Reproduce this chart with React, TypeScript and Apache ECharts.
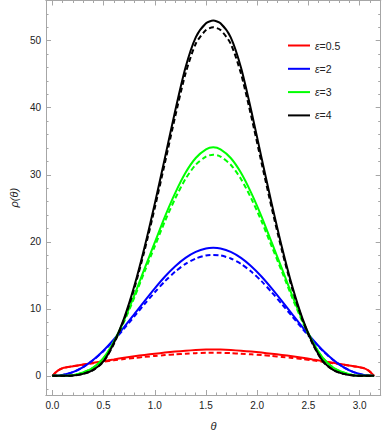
import React, { useEffect, useRef } from "react";
import * as echarts from "echarts";

// θ sample points (radians)
const thetas = [0, 0.025, 0.05, 0.1, 0.2, 0.3, 0.4, 0.5, 0.6, 0.7, 0.8, 0.9, 1.0, 1.1, 1.2, 1.3, 1.4, 1.5, 1.5708,
  1.6416, 1.7416, 1.8416, 1.9416, 2.0416, 2.1416, 2.2416, 2.3416, 2.4416, 2.5416, 2.6416, 2.7416, 2.8416, 2.9416, 3.0416, 3.0916, 3.1166, 3.1416];

const redSolid = [0, 0.4, 0.75, 1.15, 1.45, 1.7, 1.95, 2.2, 2.45, 2.7, 2.92, 3.12, 3.3, 3.47, 3.62, 3.75, 3.85, 3.92, 3.94,
  3.92, 3.85, 3.75, 3.62, 3.47, 3.3, 3.12, 2.92, 2.7, 2.45, 2.2, 1.95, 1.7, 1.45, 1.15, 0.75, 0.4, 0];
const redDashed = [0, 0.4, 0.75, 1.14, 1.43, 1.67, 1.89, 2.1, 2.31, 2.51, 2.68, 2.83, 2.97, 3.1, 3.21, 3.31, 3.39, 3.44, 3.45,
  3.44, 3.39, 3.31, 3.21, 3.1, 2.97, 2.83, 2.68, 2.51, 2.31, 2.1, 1.89, 1.67, 1.43, 1.14, 0.75, 0.4, 0];
const blueSolid = [0, 0.01, 0.03, 0.12, 0.55, 1.31, 2.4, 3.79, 5.43, 7.26, 9.2, 11.16, 13.06, 14.83, 16.36, 17.6, 18.49, 19.0, 19.1,
  19.0, 18.49, 17.6, 16.36, 14.83, 13.06, 11.16, 9.2, 7.26, 5.43, 3.79, 2.4, 1.31, 0.55, 0.12, 0.03, 0.01, 0];
const blueDashed = [0, 0.01, 0.03, 0.12, 0.55, 1.31, 2.37, 3.72, 5.3, 7.04, 8.87, 10.7, 12.48, 14.13, 15.56, 16.7, 17.51, 17.97, 18.05,
  17.97, 17.51, 16.7, 15.56, 14.13, 12.48, 10.7, 8.87, 7.04, 5.3, 3.72, 2.37, 1.31, 0.55, 0.12, 0.03, 0.01, 0];
const greenSolid = [0, 0, 0, 0.004, 0.1, 0.5, 1.25, 2.7, 5.1, 8.3, 12.0, 16.0, 19.9, 23.8, 27.3, 30.3, 32.5, 33.8, 34.1,
  33.8, 32.5, 30.3, 27.3, 23.8, 19.9, 16.0, 12.0, 8.3, 5.1, 2.7, 1.25, 0.5, 0.1, 0.004, 0, 0, 0];
const greenDashed = [0, 0, 0, 0.004, 0.1, 0.5, 1.23, 2.64, 4.97, 8.08, 11.67, 15.55, 19.32, 23.1, 26.48, 29.38, 31.5, 32.72, 33.0,
  32.72, 31.5, 29.38, 26.48, 23.1, 19.32, 15.55, 11.67, 8.08, 4.97, 2.64, 1.23, 0.5, 0.1, 0.004, 0, 0, 0];
const blackSolid = [0, 0, 0, 0, 0.04, 0.3, 0.9, 2.2, 4.9, 8.6, 13.4, 19.2, 25.7, 32.6, 39.6, 46.0, 50.5, 52.6, 53.0,
  52.6, 50.5, 46.0, 39.6, 32.6, 25.7, 19.2, 13.4, 8.6, 4.9, 2.2, 0.9, 0.3, 0.04, 0, 0, 0, 0];
const blackDashed = [0, 0, 0, 0, 0.04, 0.3, 0.88, 2.14, 4.76, 8.35, 13.02, 18.7, 25.05, 31.85, 38.75, 45.1, 49.55, 51.6, 52.0,
  51.6, 49.55, 45.1, 38.75, 31.85, 25.05, 18.7, 13.02, 8.35, 4.76, 2.14, 0.88, 0.3, 0.04, 0, 0, 0, 0];

const legendNames = ["ε=0.5", "ε=2", "ε=3", "ε=4"];
const colors = ["#ff0000", "#0000ff", "#00ff00", "#000000"];
const solidSets = [redSolid, blueSolid, greenSolid, blackSolid];
const dashedSets = [redDashed, blueDashed, greenDashed, blackDashed];

const xMajor = [0, 0.5, 1.0, 1.5, 2.0, 2.5, 3.0];
const xMinor = [0.1, 0.2, 0.3, 0.4, 0.6, 0.7, 0.8, 0.9, 1.1, 1.2, 1.3, 1.4, 1.6, 1.7, 1.8, 1.9, 2.1, 2.2, 2.3, 2.4, 2.6, 2.7, 2.8, 2.9, 3.1];
const yMajor = [0, 10, 20, 30, 40, 50];
const yMinor = [-2, 2, 4, 6, 8, 12, 14, 16, 18, 22, 24, 26, 28, 32, 34, 36, 38, 42, 44, 46, 48, 52, 54];

const X_MIN = -0.062;
const X_MAX = 3.206;
const Y_MIN = -2.855;
const Y_MAX = 56.0;
const FRAME = "#a6a6a6";
const FONT = "'Liberation Sans', Arial, sans-serif";

function xAxis(position: string, ticks: number[], len: number, labels: boolean, withName: boolean) {
  return {
    type: "value",
    position,
    min: X_MIN,
    max: X_MAX,
    name: withName ? "θ" : "",
    nameLocation: "middle",
    nameGap: 25,
    nameTextStyle: { fontFamily: FONT, fontSize: 11, fontStyle: "italic", color: "#222" },
    axisLine: { show: true, onZero: false, lineStyle: { color: FRAME, width: 1 } },
    axisTick: { show: true, inside: true, length: len, customValues: ticks, lineStyle: { color: FRAME, width: 1 } },
    axisLabel: {
      show: labels,
      customValues: ticks,
      margin: 5,
      fontFamily: FONT,
      fontSize: 10,
      color: "#222",
      formatter: (v: number) => v.toFixed(1),
    },
    splitLine: { show: false },
  };
}

function yAxis(position: string, ticks: number[], len: number, labels: boolean, withName: boolean) {
  return {
    type: "value",
    position,
    min: Y_MIN,
    max: Y_MAX,
    name: withName ? "ρ(θ)" : "",
    nameLocation: "middle",
    nameGap: 20,
    nameTextStyle: { fontFamily: FONT, fontSize: 11, fontStyle: "italic", color: "#222" },
    axisLine: { show: true, onZero: false, lineStyle: { color: FRAME, width: 1 } },
    axisTick: { show: true, inside: true, length: len, customValues: ticks, lineStyle: { color: FRAME, width: 1 } },
    axisLabel: {
      show: labels,
      customValues: ticks,
      margin: 5,
      fontFamily: FONT,
      fontSize: 10,
      color: "#222",
      formatter: (v: number) => String(v),
    },
    splitLine: { show: false },
  };
}

export default function App() {
  const ref = useRef<HTMLDivElement>(null);
  useEffect(() => {
    if (!ref.current) return;
    const chart = echarts.init(ref.current, undefined, { renderer: "svg" });
    const series: any[] = [];
    for (let i = 0; i < 4; i++) {
      series.push({
        name: legendNames[i],
        type: "line",
        xAxisIndex: 0,
        yAxisIndex: 0,
        data: thetas.map((t, k) => [t, solidSets[i][k]]),
        showSymbol: false,
        symbol: "none",
        smooth: 0.25,
        lineStyle: { color: colors[i], width: 2 },
        itemStyle: { color: colors[i] },
        z: 2 + i * 2,
      });
      series.push({
        name: legendNames[i] + " (dashed)",
        type: "line",
        xAxisIndex: 0,
        yAxisIndex: 0,
        data: thetas.map((t, k) => [t, dashedSets[i][k]]),
        showSymbol: false,
        symbol: "none",
        smooth: 0.25,
        lineStyle: { color: colors[i], width: 2, type: [5, 3] },
        itemStyle: { color: colors[i] },
        z: 3 + i * 2,
      });
    }
    chart.setOption({
      animation: false,
      backgroundColor: "#ffffff",
      grid: { left: 34.3, right: 1.3, top: 0.5, bottom: 37.7, containLabel: false },
      xAxis: [
        xAxis("bottom", xMajor, 5, true, true),
        xAxis("bottom", xMinor, 2.5, false, false),
        xAxis("top", xMajor, 5, false, false),
        xAxis("top", xMinor, 2.5, false, false),
      ],
      yAxis: [
        yAxis("left", yMajor, 5, true, true),
        yAxis("left", yMinor, 2.5, false, false),
        yAxis("right", yMajor, 5, false, false),
        yAxis("right", yMinor, 2.5, false, false),
      ],
      legend: {
        data: legendNames.map((n, i) => ({ name: n, icon: "rect", itemStyle: { color: colors[i] } })),
        orient: "vertical",
        left: 283,
        top: 33.5,
        itemWidth: 22,
        itemHeight: 2,
        itemGap: 9.3,
        selectedMode: false,
        formatter: (name: string) => "{e|ε}{t|" + name.slice(1) + "}",
        textStyle: {
          fontFamily: FONT,
          fontSize: 10.5,
          lineHeight: 14,
          color: "#222",
          rich: {
            e: { fontFamily: FONT, fontSize: 10.5, lineHeight: 14, fontStyle: "italic", color: "#222" },
            t: { fontFamily: FONT, fontSize: 10.5, lineHeight: 14, color: "#222" },
          },
        },
      },
      series,
    });
    return () => chart.dispose();
  }, []);
  return <div ref={ref} style={{ position: "fixed", left: 0, top: 0, width: 382, height: 436 }} />;
}
